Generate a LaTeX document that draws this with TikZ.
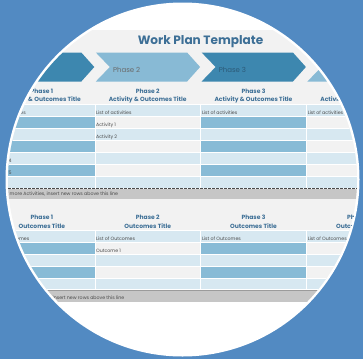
\documentclass[tikz,border=0pt]{standalone}
\usepackage{fontspec}
\setmainfont{Poppins}
\definecolor{bgblue}{HTML}{528AC2}
\definecolor{sheet}{HTML}{F2F2F2}
\definecolor{chevD}{HTML}{3D87AF}
\definecolor{chevL}{HTML}{88BAD5}
\definecolor{cellL}{HTML}{D7E8F1}
\definecolor{cellM}{HTML}{88BBD6}
\definecolor{cellG}{HTML}{F2F2F2}
\definecolor{cHdr}{HTML}{3D6F96}
\definecolor{cBar}{HTML}{C6C6C6}
\definecolor{cLine}{HTML}{9B9B9B}
\definecolor{cTxt}{HTML}{4A4A4A}
\definecolor{cPh2}{HTML}{6A6A6A}
\definecolor{cPh3}{HTML}{2C5A78}
\tikzset{
  titletext/.style={font=\bfseries\fontsize{12.1}{12.1}\selectfont, text=cHdr, inner sep=0},
  hdrtext/.style={font=\bfseries\fontsize{6}{6}\selectfont, text=cHdr, inner sep=0},
  bodytext/.style={font=\fontsize{4.7}{4.7}\selectfont, text=cTxt, inner sep=0, anchor=west},
  chevtext/.style={font=\fontsize{7}{7}\selectfont, inner sep=0, anchor=west},
}
\begin{document}
\begin{tikzpicture}[x=1pt,y=-1pt]
\useasboundingbox (0,0) rectangle (363,359);
\fill[bgblue] (0,0) rectangle (363,359);
\fill[white] (182.5,179.5) circle[radius=177];
\begin{scope}
\clip (182.5,179.5) circle[radius=174.5];
\fill[sheet] (-20,30) rectangle (380,302);
\node[titletext] (title) at (200.5,42) {Work Plan Template};
% chevrons
\foreach \k/\cc in {0/chevD,1/chevL,2/chevD,3/chevL}{
  \pgfmathsetmacro\xa{-11+105.8*\k+1}
  \pgfmathsetmacro\xn{\xa+14}
  \pgfmathsetmacro\xr{-11+105.8*(\k+1)-13.5}
  \pgfmathsetmacro\xt{\xr+13}
  \fill[\cc] (\xa,52.5) -- (\xr,52.5) -- (\xt,67) -- (\xr,81.5) -- (\xa,81.5) -- (\xn,67) -- cycle;
}
\node[chevtext, text=cPh2] (ch2) at (112.8,69.5) {Phase 2};
\node[chevtext, text=cPh3] (ch3) at (218.6,69.5) {Phase 3};
% cells
\foreach \t/\b/\ty in {104.5/116/L,116/128/A,128/140/L,140/152/A,152/164/L,164/176/A,176/188/L,230/242/L,242/254/A,254/266/L,266/278/A,278/289.5/L}{
  \foreach \k in {0,1,2,3}{
    \pgfmathsetmacro\xa{-11+105.8*\k}
    \pgfmathsetmacro\xb{\xa+105.8}
    \if\ty L\def\cc{cellL}\else\ifodd\k\def\cc{cellG}\else\def\cc{cellM}\fi\fi
    \fill[\cc, draw=white, line width=0.6pt] (\xa,\t) rectangle (\xb,\b);
  }
}
% headers
\foreach \k in {0,1,2,3}{
  \pgfmathsetmacro\xc{-11+105.8*\k+52.9}
  \pgfmathtruncatemacro\n{\k+1}
  \node[hdrtext] (ha\k) at (\xc,91) {Phase \n};
  \node[hdrtext] (hb\k) at (\xc,100) {Activity \& Outcomes Title};
  \node[hdrtext] (hc\k) at (\xc,217) {Phase \n};
  \node[hdrtext] (hd\k) at (\xc,226) {Outcomes Title};
  \pgfmathsetmacro\xl{-11+105.8*\k+1.2}
  \node[bodytext] (la\k) at (\xl,113) {List of activities};
  \node[bodytext] (lo\k) at (\xl,239) {List of Outcomes};
}
% column texts
\node[bodytext] (a01) at (-9.8,125) {Activity 1};
\node[bodytext] (a02) at (-9.8,137) {Activity 2};
\node[bodytext] (a03) at (-9.8,149) {Activity 3};
\node[bodytext] (a04) at (-9.8,161) {Activity 4};
\node[bodytext] (a05) at (-9.8,173) {Activity 5};
\node[bodytext] (a11) at (96,125) {Activity 1};
\node[bodytext] (a12) at (96,137) {Activity 2};
\node[bodytext] (o11) at (96,251) {Outcome 1};
% bars
\draw[cTxt, line width=1.1pt, dash pattern=on 2.6pt off 1.4pt] (-20,188.3) -- (380,188.3);
\fill[cBar] (-20,188.9) rectangle (380,199);
\node[bodytext] (bar1) at (9.5,194.2) {more Activities, insert new rows above this line};
\fill[cLine] (-20,289.5) rectangle (380,290.7);
\fill[cBar] (-20,290.7) rectangle (380,302);
\node[bodytext, anchor=east] (bar2) at (124.5,297.5) {insert new rows above this line};
\end{scope}
\end{tikzpicture}
\end{document}
